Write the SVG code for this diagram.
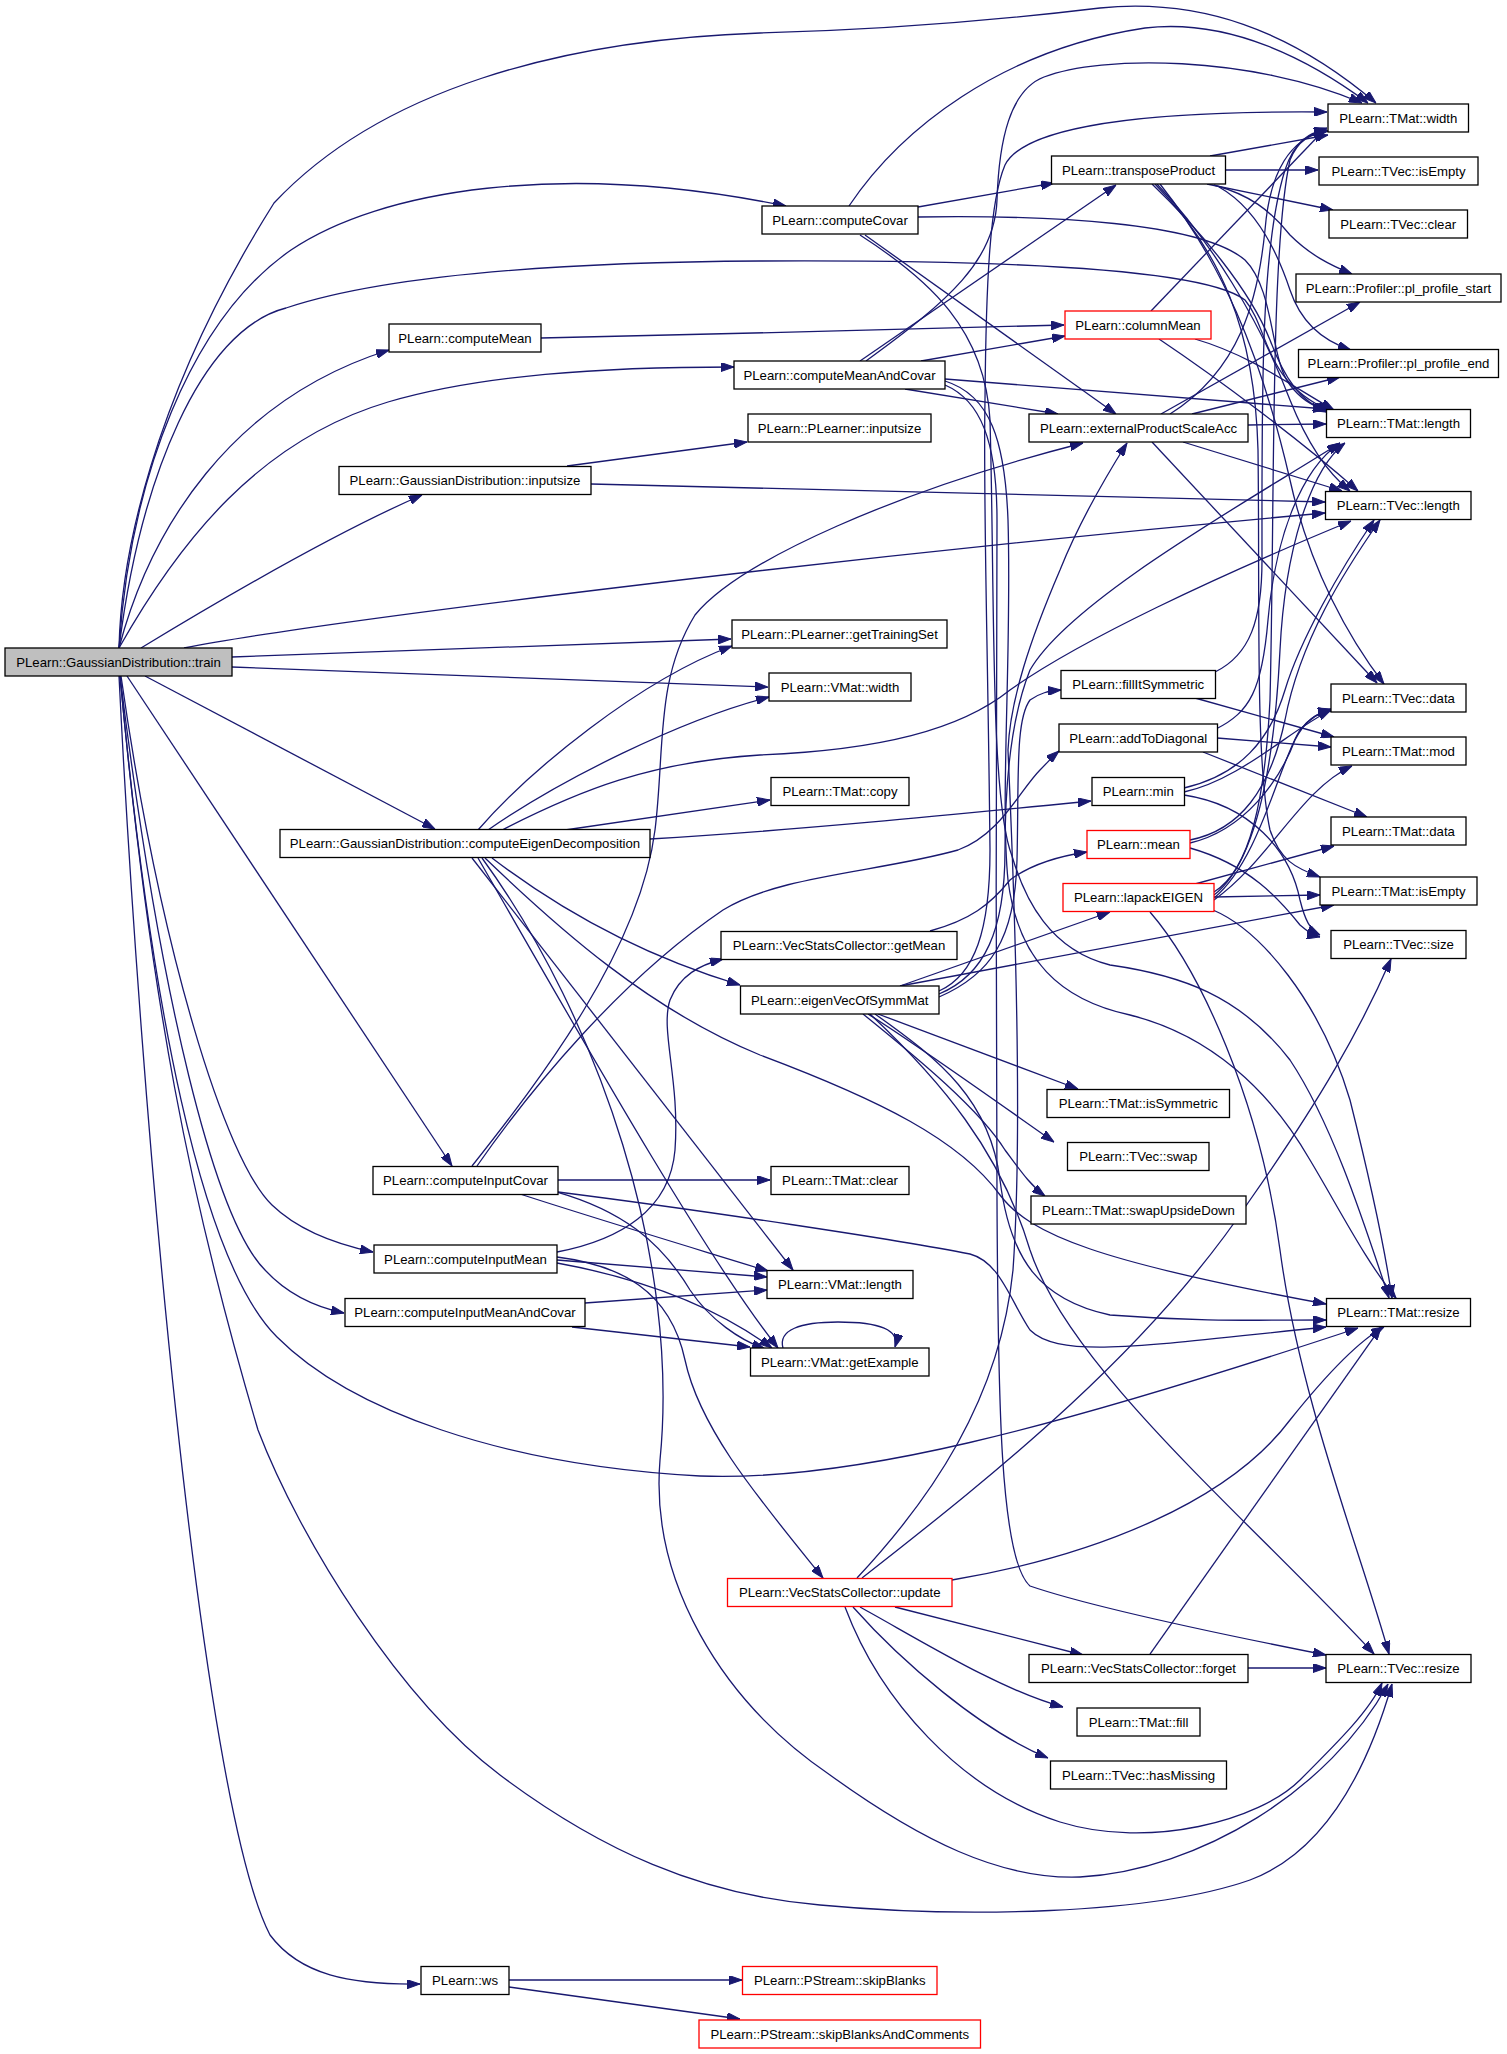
<svg xmlns="http://www.w3.org/2000/svg" width="1507" height="2054" viewBox="0 0 1507 2054">
<style>
.n rect{fill:#fff;stroke:#000;stroke-width:1.3}
.n.red rect{stroke:#ff0000}
.n.root rect{fill:#bfbfbf}
.n text{font-family:"Liberation Sans",Arial,sans-serif;font-size:13.2px;text-anchor:middle;fill:#000}
#edges path{fill:none;stroke:#191970;stroke-width:1.3;marker-end:url(#ah)}
</style>
<defs>
<marker id="ah" viewBox="0 0 13 9" refX="13" refY="4.5" markerWidth="13" markerHeight="9" markerUnits="userSpaceOnUse" orient="auto">
<path d="M0,0 L13,4.5 L0,9 z" fill="#191970" stroke="#191970" stroke-width="1"/>
</marker>
</defs>
<rect width="1507" height="2054" fill="#fff"/>
<g id="edges">
<!-- train -->
<path d="M119,648 C121,560 150,400 274,203 C380,90 560,40 760,33 C880,30 1000,20 1100,8 C1200,-2 1290,30 1376,103"/>
<path d="M119,648 C130,480 190,320 291,250 C380,190 560,160 786,206"/>
<path d="M119,648 C140,480 200,330 286,308 C400,270 600,262 760,261 C950,260 1200,265 1245,300 C1270,330 1262,380 1330,411"/>
<path d="M119,648 C150,530 230,400 389,350"/>
<path d="M119,648 C180,540 260,440 388,402 C480,375 600,367 734,367"/>
<path d="M141,648 C220,600 330,535 422,495"/>
<path d="M184,648 C300,625 800,560 1325,513"/>
<path d="M232,657 L731,639"/>
<path d="M232,667 L768,687"/>
<path d="M145,676 L435,829"/>
<path d="M127,676 L452,1166"/>
<path d="M121,676 C160,950 225,1160 272,1205 C300,1232 340,1245 373,1252"/>
<path d="M120,676 C160,1000 215,1220 265,1270 C290,1297 320,1308 344,1313"/>
<path d="M120,676 C150,1000 200,1260 277,1337 C350,1410 500,1465 700,1476 C850,1482 1050,1430 1358,1328"/>
<path d="M120,676 C150,1000 190,1200 258,1430 C300,1540 400,1700 500,1775 C600,1850 700,1895 820,1905 C960,1918 1150,1915 1250,1880 C1330,1850 1370,1760 1392,1684"/>
<path d="M119,676 C140,1100 200,1800 270,1935 C300,1975 350,1985 420,1984"/>
<!-- computeMean, GD::inputsize -->
<path d="M541,338 C700,334 900,330 1064,325"/>
<path d="M567,466 L747,442"/>
<path d="M591,484 L1325,502"/>
<!-- computeEigenDecomposition -->
<path d="M478,830 C530,770 640,680 732,646"/>
<path d="M488,830 C560,780 680,720 769,697"/>
<path d="M502,830 C580,790 650,762 760,755 C880,750 960,730 1010,690 C1080,640 1220,575 1351,521"/>
<path d="M565,830 L770,800"/>
<path d="M650,839 C800,830 950,815 1091,801"/>
<path d="M492,858 C560,910 640,955 740,985"/>
<path d="M485,858 C560,930 650,1010 760,1055 C880,1100 960,1140 1000,1195 C1030,1235 1100,1262 1326,1304"/>
<path d="M472,858 L793,1270"/>
<path d="M478,858 C560,1000 700,1250 778,1348"/>
<path d="M482,858 C600,1020 680,1260 660,1460 C650,1580 720,1700 830,1775 C920,1840 1000,1880 1080,1877 C1200,1870 1330,1790 1388,1684"/>
<!-- computeInputCovar -->
<path d="M472,1166 C540,1080 640,950 655,830 C665,750 655,680 695,615 C740,560 900,490 1083,443"/>
<path d="M477,1166 C530,1090 620,980 723,910 C780,875 880,872 958,850 C1000,835 1020,790 1040,770 C1048,762 1052,757 1059,751"/>
<path d="M558,1180 L770,1180"/>
<path d="M520,1194 C600,1220 700,1250 768,1271"/>
<path d="M557,1192 C620,1210 660,1240 690,1290 C710,1320 740,1340 765,1349"/>
<path d="M558,1192 C700,1210 900,1240 970,1254 C1000,1262 1010,1300 1030,1330 C1060,1360 1150,1345 1326,1327"/>
<!-- computeInputMean -->
<path d="M557,1252 C620,1240 670,1210 675,1150 C680,1080 660,1030 670,1000 C680,975 700,965 723,959"/>
<path d="M557,1257 C620,1265 670,1290 685,1360 C700,1430 760,1500 823,1578"/>
<path d="M557,1260 L767,1277"/>
<path d="M557,1263 C650,1280 720,1310 772,1348"/>
<!-- computeInputMeanAndCovar -->
<path d="M585,1303 L767,1290"/>
<path d="M572,1327 L750,1347"/>
<!-- getExample self loop -->
<path d="M783,1348 C778,1330 800,1322 838,1322 C880,1322 900,1330 895,1347"/>
<!-- ws -->
<path d="M509,1980 L742,1980"/>
<path d="M509,1987 L740,2019"/>
<!-- computeCovar -->
<path d="M849,206 C900,130 1000,50 1145,28 C1230,18 1310,60 1368,103"/>
<path d="M918,207 L1054,183"/>
<path d="M918,217 C1050,215 1200,222 1245,260 C1275,290 1270,360 1290,385 C1300,398 1310,405 1328,411"/>
<path d="M865,235 L1116,414"/>
<path d="M860,235 C930,280 985,330 990,420 C995,600 990,800 1012,856 C1025,900 1050,950 1110,965 C1180,975 1240,995 1290,1060 C1330,1120 1360,1210 1389,1298"/>
<!-- computeMeanAndCovar -->
<path d="M921,361 L1065,336"/>
<path d="M860,361 L1116,185"/>
<path d="M866,361 C950,300 995,260 997,200 C999,140 1010,90 1044,77 C1100,55 1250,55 1362,103"/>
<path d="M905,389 L1058,414"/>
<path d="M945,379 L1326,409"/>
<path d="M945,381 C990,395 1005,440 1008,520 C1012,650 1000,800 1008,880 C1018,960 1060,1000 1130,1015 C1210,1035 1270,1090 1310,1160 C1340,1210 1365,1260 1396,1298"/>
<path d="M945,385 C980,400 997,440 997,520 C997,700 995,1000 997,1200 C998,1400 1000,1560 1030,1586 C1100,1610 1250,1640 1326,1655"/>
<!-- transposeProduct -->
<path d="M1210,156 L1328,135"/>
<path d="M1225,170 L1318,170"/>
<path d="M1207,184 L1333,210"/>
<path d="M1214,185 C1250,195 1270,210 1290,235 C1310,255 1330,265 1352,274"/>
<path d="M1219,187 C1260,210 1280,260 1290,290 C1300,320 1320,340 1351,350"/>
<path d="M1152,184 C1200,230 1250,290 1270,340 C1285,380 1300,400 1326,412"/>
<path d="M1157,184 C1210,240 1260,320 1290,400 C1310,450 1330,475 1350,491"/>
<path d="M1160,184 C1220,260 1260,350 1290,480 C1310,570 1350,640 1384,684"/>
<path d="M1155,184 C1220,250 1255,330 1258,450 C1260,600 1255,760 1270,830 C1280,860 1295,868 1320,877"/>
<!-- columnMean -->
<path d="M1151,311 L1325,129"/>
<path d="M1195,339 C1250,355 1290,385 1334,410"/>
<path d="M1159,339 C1220,380 1300,440 1358,491"/>
<!-- externalProductScaleAcc -->
<path d="M1170,414 C1240,370 1258,300 1265,230 C1270,170 1290,140 1327,128"/>
<path d="M1161,414 L1360,302"/>
<path d="M1192,414 L1340,377"/>
<path d="M1248,425 L1326,424"/>
<path d="M1183,442 L1342,491"/>
<path d="M1152,442 L1377,683"/>
<!-- fillItSymmetric -->
<path d="M1215,672 C1250,655 1262,620 1262,560 C1262,400 1260,250 1285,170 C1295,140 1310,132 1327,130"/>
<path d="M1195,698 L1334,737"/>
<!-- addToDiagonal -->
<path d="M1216,729 C1250,712 1262,690 1268,620 C1275,540 1300,470 1340,443"/>
<path d="M1217,738 L1331,747"/>
<path d="M1203,752 L1367,817"/>
<!-- min -->
<path d="M1184,788 C1240,775 1270,740 1285,690 C1300,640 1340,570 1374,520"/>
<path d="M1184,792 C1240,780 1290,730 1331,710"/>
<path d="M1184,795 C1250,805 1290,850 1300,900 C1305,920 1310,930 1320,935"/>
<!-- mean -->
<path d="M1190,840 C1240,830 1270,790 1285,720 C1300,640 1345,570 1380,520"/>
<path d="M1190,843 C1245,830 1280,780 1295,740 C1305,720 1318,712 1331,711"/>
<path d="M1190,848 C1250,865 1280,900 1300,925 C1308,932 1315,936 1320,937"/>
<!-- lapackEIGEN -->
<path d="M1214,892 C1250,870 1265,800 1270,700 C1275,500 1270,250 1290,160 C1298,140 1310,134 1328,131"/>
<path d="M1214,895 C1260,860 1275,750 1280,650 C1285,550 1310,470 1345,443"/>
<path d="M1214,898 C1260,860 1280,760 1300,730 C1310,718 1320,712 1331,709"/>
<path d="M1214,900 C1270,860 1300,790 1352,766"/>
<path d="M1195,884 L1334,846"/>
<path d="M1214,897 L1320,895"/>
<path d="M1213,910 C1260,930 1320,1000 1350,1100 C1370,1180 1385,1250 1392,1298"/>
<path d="M1150,912 C1200,970 1260,1100 1280,1250 C1300,1400 1360,1550 1389,1654"/>
<!-- getMean -->
<path d="M930,931 C970,920 990,905 1010,880 C1030,865 1060,856 1087,852"/>
<!-- eigenVecOfSymmMat -->
<path d="M939,997 C990,975 1015,940 1017,860 C1019,780 1015,720 1030,700 C1040,693 1048,691 1061,690"/>
<path d="M939,994 C985,975 1005,930 1005,850 C1005,790 1010,720 1030,670 C1070,600 1250,500 1340,443"/>
<path d="M939,991 C975,975 990,930 990,850 C988,650 983,500 985,400 C986,280 990,200 1005,165 C1020,135 1100,110 1327,112"/>
<path d="M900,986 L1110,912"/>
<path d="M900,986 L1334,905"/>
<path d="M878,1014 L1078,1089"/>
<path d="M868,1014 C910,1040 980,1090 1054,1142"/>
<path d="M863,1014 C920,1060 980,1110 1005,1150 C1020,1170 1030,1185 1045,1196"/>
<path d="M875,1014 C940,1060 990,1100 1000,1180 C1010,1260 1040,1300 1110,1315 C1200,1322 1260,1320 1326,1320"/>
<path d="M870,1014 C940,1080 1000,1150 1030,1250 C1070,1370 1250,1520 1374,1654"/>
<!-- update -->
<path d="M857,1578 C930,1500 1000,1400 1013,1270 C1025,1100 1010,800 1008,750 C1010,700 1030,640 1060,570 C1080,520 1110,470 1127,443"/>
<path d="M862,1578 C1000,1470 1150,1350 1250,1200 C1320,1100 1360,1030 1391,959"/>
<path d="M952,1580 C1100,1555 1230,1500 1290,1420 C1330,1370 1360,1340 1384,1327"/>
<path d="M895,1607 L1083,1655"/>
<path d="M860,1607 C920,1640 1000,1690 1063,1707"/>
<path d="M853,1607 C900,1660 980,1730 1048,1758"/>
<path d="M845,1607 C880,1700 960,1790 1060,1822 C1150,1850 1260,1820 1300,1780 C1340,1740 1370,1710 1382,1683"/>
<!-- forget -->
<path d="M1248,1668 L1326,1668"/>
<path d="M1150,1654 L1381,1327"/>
</g>
<g id="n_train" class="n root"><rect x="5" y="648" width="227" height="28"/><text x="118.5" y="666.6">PLearn::GaussianDistribution::train</text></g>
<g id="n_computeMean" class="n"><rect x="389" y="324" width="152" height="28"/><text x="465" y="342.6">PLearn::computeMean</text></g>
<g id="n_gd_inputsize" class="n"><rect x="339" y="466.5" width="252" height="28"/><text x="465" y="485.1">PLearn::GaussianDistribution::inputsize</text></g>
<g id="n_computeEigen" class="n"><rect x="280" y="829.5" width="370" height="28"/><text x="465" y="848.1">PLearn::GaussianDistribution::computeEigenDecomposition</text></g>
<g id="n_computeInputCovar" class="n"><rect x="373" y="1166.5" width="185" height="28"/><text x="465.5" y="1185.1">PLearn::computeInputCovar</text></g>
<g id="n_computeInputMean" class="n"><rect x="374" y="1245" width="183" height="28"/><text x="465.5" y="1263.6">PLearn::computeInputMean</text></g>
<g id="n_computeInputMeanAndCovar" class="n"><rect x="345" y="1298.5" width="240" height="28"/><text x="465" y="1317.1">PLearn::computeInputMeanAndCovar</text></g>
<g id="n_ws" class="n"><rect x="421" y="1966.5" width="88" height="28"/><text x="465" y="1985.1">PLearn::ws</text></g>
<g id="n_computeCovar" class="n"><rect x="762" y="206" width="156" height="28"/><text x="840" y="224.6">PLearn::computeCovar</text></g>
<g id="n_computeMeanAndCovar" class="n"><rect x="734" y="361" width="211" height="28"/><text x="839.5" y="379.6">PLearn::computeMeanAndCovar</text></g>
<g id="n_pl_inputsize" class="n"><rect x="748" y="414" width="183" height="28"/><text x="839.5" y="432.6">PLearn::PLearner::inputsize</text></g>
<g id="n_getTrainingSet" class="n"><rect x="732" y="620" width="215" height="28"/><text x="839.5" y="638.6">PLearn::PLearner::getTrainingSet</text></g>
<g id="n_vmat_width" class="n"><rect x="769" y="673" width="142" height="28"/><text x="840" y="691.6">PLearn::VMat::width</text></g>
<g id="n_tmat_copy" class="n"><rect x="771" y="777.5" width="138" height="28"/><text x="840" y="796.1">PLearn::TMat::copy</text></g>
<g id="n_getMean" class="n"><rect x="721" y="931.5" width="236" height="28"/><text x="839" y="950.1">PLearn::VecStatsCollector::getMean</text></g>
<g id="n_eigenVec" class="n"><rect x="740.5" y="986" width="198.5" height="28"/><text x="839.75" y="1004.6">PLearn::eigenVecOfSymmMat</text></g>
<g id="n_tmat_clear" class="n"><rect x="771" y="1166.5" width="138" height="28"/><text x="840" y="1185.1">PLearn::TMat::clear</text></g>
<g id="n_vmat_length" class="n"><rect x="767" y="1270.5" width="146" height="28"/><text x="840" y="1289.1">PLearn::VMat::length</text></g>
<g id="n_getExample" class="n"><rect x="750.5" y="1348" width="178.5" height="28"/><text x="839.75" y="1366.6">PLearn::VMat::getExample</text></g>
<g id="n_update" class="n red"><rect x="727.5" y="1578.5" width="224.5" height="28"/><text x="839.75" y="1597.1">PLearn::VecStatsCollector::update</text></g>
<g id="n_skipBlanks" class="n red"><rect x="742.5" y="1966.5" width="194.5" height="28"/><text x="839.75" y="1985.1">PLearn::PStream::skipBlanks</text></g>
<g id="n_skipBlanksAndComments" class="n red"><rect x="699" y="2020" width="281.5" height="28"/><text x="839.75" y="2038.6">PLearn::PStream::skipBlanksAndComments</text></g>
<g id="n_transposeProduct" class="n"><rect x="1051.5" y="156" width="174" height="28"/><text x="1138.5" y="174.6">PLearn::transposeProduct</text></g>
<g id="n_columnMean" class="n red"><rect x="1065" y="311" width="146" height="28"/><text x="1138" y="329.6">PLearn::columnMean</text></g>
<g id="n_externalProductScaleAcc" class="n"><rect x="1029" y="414" width="219" height="28"/><text x="1138.5" y="432.6">PLearn::externalProductScaleAcc</text></g>
<g id="n_fillItSymmetric" class="n"><rect x="1061" y="670.5" width="154.5" height="28"/><text x="1138.25" y="689.1">PLearn::fillItSymmetric</text></g>
<g id="n_addToDiagonal" class="n"><rect x="1059" y="724" width="158.5" height="28"/><text x="1138.25" y="742.6">PLearn::addToDiagonal</text></g>
<g id="n_min" class="n"><rect x="1092" y="777.5" width="92.5" height="28"/><text x="1138.25" y="796.1">PLearn::min</text></g>
<g id="n_mean" class="n red"><rect x="1087" y="830.5" width="103" height="28"/><text x="1138.5" y="849.1">PLearn::mean</text></g>
<g id="n_lapackEIGEN" class="n red"><rect x="1063" y="883.5" width="151" height="28"/><text x="1138.5" y="902.1">PLearn::lapackEIGEN</text></g>
<g id="n_isSymmetric" class="n"><rect x="1047" y="1089.5" width="182.5" height="28"/><text x="1138.25" y="1108.1">PLearn::TMat::isSymmetric</text></g>
<g id="n_tvec_swap" class="n"><rect x="1067.5" y="1142.5" width="141.5" height="28"/><text x="1138.25" y="1161.1">PLearn::TVec::swap</text></g>
<g id="n_swapUpsideDown" class="n"><rect x="1031" y="1196" width="215" height="28"/><text x="1138.5" y="1214.6">PLearn::TMat::swapUpsideDown</text></g>
<g id="n_forget" class="n"><rect x="1029" y="1654.5" width="219" height="28"/><text x="1138.5" y="1673.1">PLearn::VecStatsCollector::forget</text></g>
<g id="n_tmat_fill" class="n"><rect x="1077" y="1708" width="123" height="28"/><text x="1138.5" y="1726.6">PLearn::TMat::fill</text></g>
<g id="n_hasMissing" class="n"><rect x="1050.5" y="1761" width="176" height="28"/><text x="1138.5" y="1779.6">PLearn::TVec::hasMissing</text></g>
<g id="n_tmat_width" class="n"><rect x="1328" y="104" width="140.5" height="28"/><text x="1398.25" y="122.6">PLearn::TMat::width</text></g>
<g id="n_tvec_isEmpty" class="n"><rect x="1319" y="157" width="159" height="28"/><text x="1398.5" y="175.6">PLearn::TVec::isEmpty</text></g>
<g id="n_tvec_clear" class="n"><rect x="1329" y="210" width="138.5" height="28"/><text x="1398.25" y="228.6">PLearn::TVec::clear</text></g>
<g id="n_pl_profile_start" class="n"><rect x="1296" y="274" width="205" height="28"/><text x="1398.5" y="292.6">PLearn::Profiler::pl_profile_start</text></g>
<g id="n_pl_profile_end" class="n"><rect x="1298.5" y="349.5" width="200" height="28"/><text x="1398.5" y="368.1">PLearn::Profiler::pl_profile_end</text></g>
<g id="n_tmat_length" class="n"><rect x="1326.5" y="409.5" width="144" height="28"/><text x="1398.5" y="428.1">PLearn::TMat::length</text></g>
<g id="n_tvec_length" class="n"><rect x="1325.5" y="491.5" width="145.5" height="28"/><text x="1398.25" y="510.1">PLearn::TVec::length</text></g>
<g id="n_tvec_data" class="n"><rect x="1331" y="684" width="135" height="28"/><text x="1398.5" y="702.6">PLearn::TVec::data</text></g>
<g id="n_tmat_mod" class="n"><rect x="1331" y="737" width="135" height="28"/><text x="1398.5" y="755.6">PLearn::TMat::mod</text></g>
<g id="n_tmat_data" class="n"><rect x="1331" y="817" width="135" height="28"/><text x="1398.5" y="835.6">PLearn::TMat::data</text></g>
<g id="n_tmat_isEmpty" class="n"><rect x="1320" y="877" width="157" height="28"/><text x="1398.5" y="895.6">PLearn::TMat::isEmpty</text></g>
<g id="n_tvec_size" class="n"><rect x="1331" y="930.5" width="135" height="28"/><text x="1398.5" y="949.1">PLearn::TVec::size</text></g>
<g id="n_tmat_resize" class="n"><rect x="1326.5" y="1298.5" width="144" height="28"/><text x="1398.5" y="1317.1">PLearn::TMat::resize</text></g>
<g id="n_tvec_resize" class="n"><rect x="1326" y="1654.5" width="145" height="28"/><text x="1398.5" y="1673.1">PLearn::TVec::resize</text></g>
</svg>
